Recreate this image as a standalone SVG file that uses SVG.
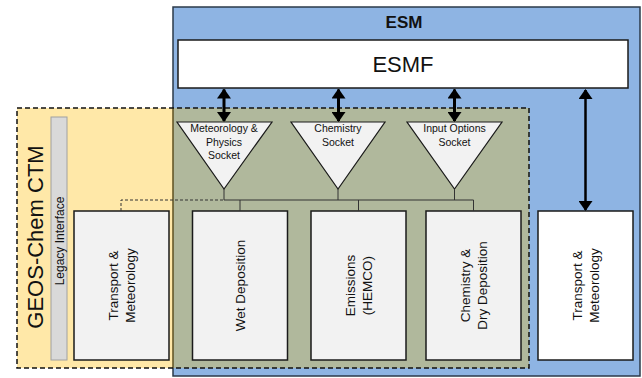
<svg xmlns="http://www.w3.org/2000/svg" width="642" height="378" viewBox="0 0 642 378">
<style>
text{font-family:"Liberation Sans",Arial,sans-serif;fill:#111}
.box{fill:#F2F2F2;stroke:#1a1a1a;stroke-width:1.5}
.sock{fill:#F2F2F2;stroke:#1a1a1a;stroke-width:1.2}
.lbl{font-size:13.5px;text-anchor:middle}
.sl{font-size:10.5px;text-anchor:middle}
.tree{stroke:#333;stroke-width:1;fill:none}
.arr{stroke:#000;stroke-width:3;fill:none;marker-start:url(#ah);marker-end:url(#ah)}
</style>
<defs>
<marker id="ah" viewBox="0 0 10 14" refX="9" refY="7" markerWidth="10" markerHeight="14" markerUnits="userSpaceOnUse" orient="auto-start-reverse">
<path d="M0,0 L10,7 L0,14 Z" fill="#000"/>
</marker>
</defs>
<g id="esm">
<rect x="173" y="7" width="467" height="369" fill="#8EB4E3" stroke="#2B3A4A" stroke-width="1.5"/>
<text x="404" y="28" font-size="17" font-weight="bold" text-anchor="middle">ESM</text>
</g>
<g id="geos-chem">
<rect x="17" y="108" width="156" height="260" fill="#FFE8A8"/>
<rect x="173" y="108" width="356" height="260" fill="#B0B89C"/>
<line x1="173" y1="108" x2="173" y2="368" stroke="#5E5020" stroke-width="1.5"/>
<rect x="17" y="108" width="512" height="260" fill="none" stroke="#111" stroke-width="1.5" stroke-dasharray="5,3"/>
<text transform="translate(43,237) rotate(-90)" font-size="22" text-anchor="middle">GEOS-Chem CTM</text>
</g>
<g id="esmf">
<rect x="178" y="40" width="450" height="48" fill="#fff" stroke="#1a1a1a" stroke-width="1.5"/>
<text x="403" y="72" font-size="22" text-anchor="middle">ESMF</text>
</g>
<g id="legacy">
<rect x="51" y="117" width="16" height="243" fill="#D9D9D9" stroke="#A0A0A0" stroke-width="1"/>
<text transform="translate(63.5,241) rotate(-90)" font-size="12" text-anchor="middle">Legacy Interface</text>
</g>
<g id="sock-met">
<polygon class="sock" points="177,122 272,122 224,189"/>
<text class="sl" x="224" y="132">Meteorology &amp;</text>
<text class="sl" x="224" y="145.5">Physics</text>
<text class="sl" x="224" y="159">Socket</text>
</g>
<g id="sock-chem">
<polygon class="sock" points="291,122 385,122 338,189"/>
<text class="sl" x="338" y="131.5">Chemistry</text>
<text class="sl" x="338" y="145.5">Socket</text>
</g>
<g id="sock-input">
<polygon class="sock" points="407,122 502,122 454.5,189"/>
<text class="sl" x="454.5" y="131.5">Input Options</text>
<text class="sl" x="454.5" y="145.5">Socket</text>
</g>
<g id="tm-left">
<rect class="box" x="74" y="211" width="95" height="149"/>
<text class="lbl" transform="translate(121.5,285.5) rotate(-90)"><tspan x="0" y="-4">Transport &amp;</tspan><tspan x="0" y="13">Meteorology</tspan></text>
</g>
<g id="wetdep">
<rect class="box" x="192.5" y="211" width="95" height="149"/>
<text class="lbl" transform="translate(240,285.5) rotate(-90)" y="5">Wet Deposition</text>
</g>
<g id="emis">
<rect class="box" x="311" y="211" width="95" height="149"/>
<text class="lbl" transform="translate(358.5,285.5) rotate(-90)"><tspan x="0" y="-4">Emissions</tspan><tspan x="0" y="13">(HEMCO)</tspan></text>
</g>
<g id="chemdry">
<rect class="box" x="426" y="211" width="95" height="149"/>
<text class="lbl" transform="translate(473.5,285.5) rotate(-90)"><tspan x="0" y="-4">Chemistry &amp;</tspan><tspan x="0" y="13">Dry Deposition</tspan></text>
</g>
<g id="tm-right">
<rect class="box" x="538" y="211" width="95" height="149" fill="#fff" style="fill:#fff"/>
<text class="lbl" transform="translate(585.5,285.5) rotate(-90)"><tspan x="0" y="-4">Transport &amp;</tspan><tspan x="0" y="13">Meteorology</tspan></text>
</g>
<g id="connectors">
<path class="tree" d="M224,189 V200 M338,189 V200 M454.5,189 V200 M224,200 H473.5 M240,200 V211 M358.5,200 V211 M473.5,200 V211"/>
<path class="tree" d="M121,211 V200 H224" stroke-dasharray="3,2"/>
<line class="arr" x1="224" y1="89.5" x2="224" y2="121"/>
<line class="arr" x1="338.5" y1="89.5" x2="338.5" y2="121"/>
<line class="arr" x1="454.5" y1="89.5" x2="454.5" y2="121"/>
<line class="arr" x1="585.5" y1="90" x2="585.5" y2="210" style="stroke-width:2.5"/>
</g>
</svg>
